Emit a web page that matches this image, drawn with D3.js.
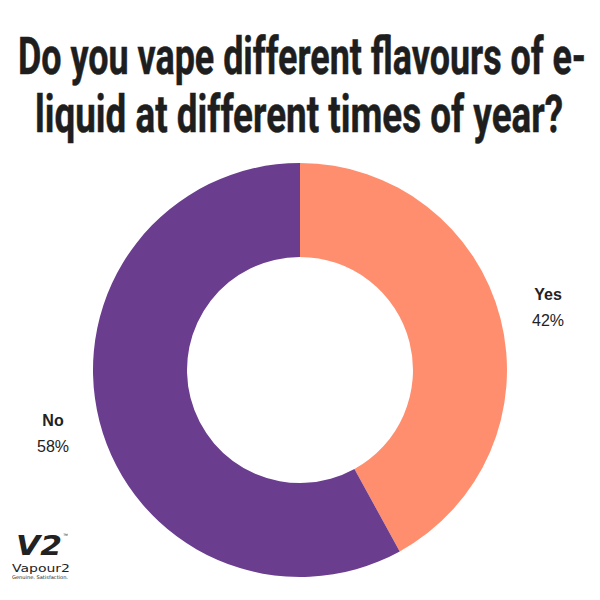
<!DOCTYPE html>
<html><head><meta charset="utf-8">
<script src="https://cdn.jsdelivr.net/npm/d3@7"></script>
<style>body{margin:0;background:#fff}svg{display:block}</style>
</head><body>
<svg id="c" width="600" height="600"></svg>
<script>
const titleLines = ["Do you vape different flavours of e-", "liquid at different times of year?"];
const categories = ["Yes", "No"];
const values = [42, 58];
const colors = ["#FF8E6E", "#6A3D8F"];

const svg = d3.select("#c");
svg.append("rect").attr("width",600).attr("height",600).attr("fill","#fff");

// Title
const tl = [[18,586,74],[35,563,132]];
titleLines.forEach((t,i)=>{
  svg.append("text").attr("x",tl[i][0]).attr("y",tl[i][2])
    .attr("textLength",tl[i][1]-tl[i][0]).attr("lengthAdjust","spacingAndGlyphs")
    .attr("font-family","Roboto,sans-serif")
    .attr("font-weight","bold").attr("font-size",52).attr("fill","#1e1e1e")
    .attr("stroke","#1e1e1e").attr("stroke-width",0.5).text(t);
});

const cx=300, cy=370, R=207, r=113;
const pie = d3.pie().sort(null).value(d=>d)(values);
const arc = d3.arc().innerRadius(r).outerRadius(R);
const g = svg.append("g").attr("transform",`translate(${cx},${cy})`);
g.selectAll("path").data(pie).join("path").attr("d",arc).attr("fill",(d,i)=>colors[i]);

// Labels
const labelPos = [[548,300],[53,426]];
pie.forEach((d,i)=>{
  const t = svg.append("text").attr("text-anchor","middle")
    .attr("font-family","'Liberation Sans',Arial,sans-serif").attr("font-size",16).attr("fill","#222");
  t.append("tspan").attr("x",labelPos[i][0]).attr("y",labelPos[i][1]).attr("font-weight","bold").text(categories[i]);
  t.append("tspan").attr("x",labelPos[i][0]).attr("y",labelPos[i][1]+26).text(values[i]+"%");
});

// Logo
const lg = svg.append("g").attr("fill","#222");
lg.append("text").attr("x",16).attr("y",555).attr("font-family","'DejaVu Sans',sans-serif")
  .attr("font-weight","bold").attr("font-style","italic").attr("font-size",26)
  .attr("textLength",46).attr("lengthAdjust","spacingAndGlyphs").text("V2");
lg.append("text").attr("x",63).attr("y",537).attr("font-size",5).attr("font-family","sans-serif").text("™");
lg.append("text").attr("x",12).attr("y",572).attr("font-family","'DejaVu Sans',sans-serif")
  .attr("font-size",11).attr("textLength",58).attr("lengthAdjust","spacingAndGlyphs").text("Vapour2");
lg.append("text").attr("x",12).attr("y",578.5).attr("font-family","'DejaVu Sans',sans-serif")
  .attr("font-size",5).attr("textLength",56).attr("lengthAdjust","spacingAndGlyphs").text("Genuine. Satisfaction.");
</script>
</body></html>
